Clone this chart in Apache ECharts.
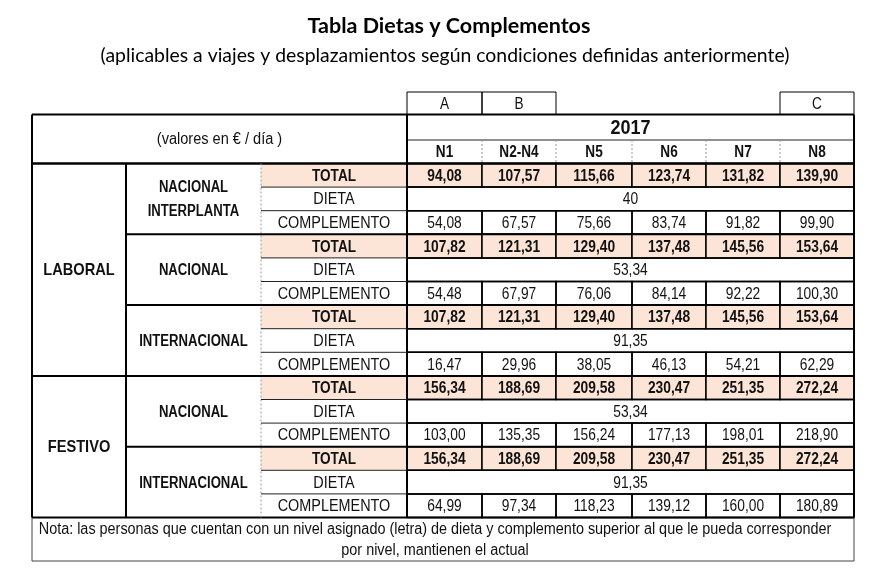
<!DOCTYPE html>
<html>
<head>
<meta charset="utf-8">
<script src="https://cdn.jsdelivr.net/npm/echarts@6/dist/echarts.min.js"></script>
<style>
  html, body { margin: 0; padding: 0; background: #fff; }
  #main { width: 878px; height: 578px; }
</style>
</head>
<body>
<div id="main"></div>
<script>
// datos de la tabla
const letters = ['A', 'B', '', '', '', 'C']
const year = '2017'
const levels = ['N1', 'N2-N4', 'N5', 'N6', 'N7', 'N8']
const sections = ['LABORAL', 'FESTIVO']
const groupSection = [0, 0, 0, 1, 1]
const groups = ['NACIONAL\nINTERPLANTA', 'NACIONAL', 'INTERNACIONAL', 'NACIONAL', 'INTERNACIONAL']
const rowTypes = ['TOTAL', 'DIETA', 'COMPLEMENTO']
const totals = [
  [94.08, 107.57, 115.66, 123.74, 131.82, 139.90],
  [107.82, 121.31, 129.40, 137.48, 145.56, 153.64],
  [107.82, 121.31, 129.40, 137.48, 145.56, 153.64],
  [156.34, 188.69, 209.58, 230.47, 251.35, 272.24],
  [156.34, 188.69, 209.58, 230.47, 251.35, 272.24]
]
const dietas = [40, 53.34, 91.35, 53.34, 91.35]
const complementos = [
  [54.08, 67.57, 75.66, 83.74, 91.82, 99.90],
  [54.48, 67.97, 76.06, 84.14, 92.22, 100.30],
  [16.47, 29.96, 38.05, 46.13, 54.21, 62.29],
  [103.00, 135.35, 156.24, 177.13, 198.01, 218.90],
  [64.99, 97.34, 118.23, 139.12, 160.00, 180.89]
]
const unitsLabel = '(valores en € / día )'
const noteText = 'Nota: las personas que cuentan con un nivel asignado (letra) de dieta y complemento superior al que le pueda corresponder\npor nivel, mantienen el actual'
const titleText = 'Tabla Dietas y Complementos'
const subtitleText = '(aplicables a viajes y desplazamientos según condiciones definidas anteriormente)'

// layout (anchos de columna / altos de fila)
const colW = [94, 135, 146, 75, 74, 76, 74, 74, 74]
const rowH = [22.5, 25.5, 23.5].concat(new Array(15).fill(23.6), [43.5])
const colX = [0]
colW.forEach(w => colX.push(colX[colX.length - 1] + w))
const rowY = [0]
rowH.forEach(h => rowY.push(rowY[rowY.length - 1] + h))

// Arial Narrow no esta: Liberation Sans estrechada con scaleX
const FONT = '"Liberation Sans", Arial, sans-serif'
const PEACH = '#fce4d6'

const fmt = v => v.toFixed(2).replace('.', ',')
const fmtDieta = v => String(v).replace('.', ',')

const styles = {
  letter: { stroke: '#000', lw: 1, size: 16, weight: 'normal', sx: 0.85 },
  units: { size: 16, weight: 'normal', sx: 0.91 },
  year: { size: 20, weight: 'bold', sx: 0.9 },
  level: { size: 16, weight: 'bold', sx: 0.85 },
  section: { size: 17, weight: 'bold', sx: 0.86 },
  group: { size: 16, weight: 'bold', sx: 0.82, lineHeight: 24 },
  typeTotal: { fill: PEACH, size: 16, weight: 'bold', sx: 0.85 },
  type: { size: 16, weight: 'normal', sx: 0.9 },
  valTotal: { fill: PEACH, stroke: '#000', lw: 1.5, size: 16, weight: 'bold', sx: 0.86 },
  val: { stroke: '#000', lw: 1.5, size: 16, weight: 'normal', sx: 0.86 },
  note: { size: 16, weight: 'normal', sx: 0.9, lineHeight: 21, dx: -8 }
}

// construir celdas a partir de los datos
const cells = []
function cell(c0, c1, r0, r1, text, kind) {
  cells.push({ value: [c0, c1, r0, r1], text: text, kind: kind })
}
letters.forEach((l, i) => { if (l) cell(3 + i, 4 + i, 0, 1, l, 'letter') })
cell(0, 3, 1, 3, unitsLabel, 'units')
cell(3, 9, 1, 2, year, 'year')
levels.forEach((l, i) => cell(3 + i, 4 + i, 2, 3, l, 'level'))
sections.forEach((s, si) => {
  const gs = groupSection.map((v, i) => v === si ? i : -1).filter(i => i >= 0)
  cell(0, 1, 3 + gs[0] * 3, 3 + (gs[gs.length - 1] + 1) * 3, s, 'section')
})
groups.forEach((g, gi) => {
  const r = 3 + gi * 3
  cell(1, 2, r, r + 3, g, 'group')
  cell(2, 3, r, r + 1, rowTypes[0], 'typeTotal')
  cell(2, 3, r + 1, r + 2, rowTypes[1], 'type')
  cell(2, 3, r + 2, r + 3, rowTypes[2], 'type')
  totals[gi].forEach((v, i) => cell(3 + i, 4 + i, r, r + 1, fmt(v), 'valTotal'))
  cell(3, 9, r + 1, r + 2, fmtDieta(dietas[gi]), 'val')
  complementos[gi].forEach((v, i) => cell(3 + i, 4 + i, r + 2, r + 3, fmt(v), 'val'))
})
cell(0, 9, 18, 19, noteText, 'note')

// lineas de la tabla: [c0, r0, c1, r1, ancho, color, discontinua]
const rules = [
  [0, 1, 9, 1, 2, '#000'], [0, 18, 9, 18, 2, '#000'],
  [0, 1, 0, 18, 2, '#000'], [9, 1, 9, 18, 2, '#000'],
  [0, 3, 9, 3, 2.5, '#000'], [3, 2, 9, 2, 1, '#222'],
  [3, 1, 3, 18, 2, '#000'], [1, 3, 1, 18, 2, '#000'],
  [2, 3, 2, 18, 1, '#999', true],
  [1, 6, 9, 6, 2, '#000'], [1, 9, 9, 9, 2, '#000'], [0, 12, 9, 12, 2, '#000'], [1, 15, 9, 15, 2, '#000'],
  [0, 18, 0, 19, 1, '#444'], [9, 18, 9, 19, 1, '#444'], [0, 19, 9, 19, 1, '#444']
]
for (let c = 4; c < 9; c++) rules.push([c, 2, c, 3, 1, '#999', true])
for (let g = 0; g < 5; g++) {
  rules.push([2, 4 + g * 3, 3, 4 + g * 3, 1, '#222'])
  rules.push([2, 5 + g * 3, 3, 5 + g * 3, 1, '#222'])
}

const myChart = echarts.init(document.getElementById('main'))

const option = {
  backgroundColor: '#fff',
  animation: false,
  title: [
    {
      text: titleText,
      left: 444,
      top: 10,
      textAlign: 'center',
      textStyle: { fontFamily: 'Lato, "Open Sans", sans-serif', fontSize: 21.5, fontWeight: 'bold', color: '#000' }
    },
    {
      text: subtitleText,
      left: 440,
      top: 41,
      textAlign: 'center',
      textStyle: { fontFamily: 'Lato, "Open Sans", sans-serif', fontSize: 19.4, fontWeight: 'normal', color: '#000' }
    }
  ],
  grid: { left: 32, top: 92, width: colX[colX.length - 1], height: rowY[rowY.length - 1] },
  xAxis: { type: 'value', min: 0, max: colX[colX.length - 1], show: false },
  yAxis: { type: 'value', inverse: true, min: 0, max: rowY[rowY.length - 1], show: false },
  series: [
    {
      type: 'custom',
      coordinateSystem: 'cartesian2d',
      silent: true,
      data: cells,
      renderItem: function (params, api) {
        const c = cells[params.dataIndex]
        const st = styles[c.kind]
        const p0 = api.coord([colX[c.value[0]], rowY[c.value[2]]])
        const p1 = api.coord([colX[c.value[1]], rowY[c.value[3]]])
        return {
          type: 'group',
          children: [
            {
              type: 'rect',
              shape: { x: p0[0], y: p0[1], width: p1[0] - p0[0], height: p1[1] - p0[1] },
              style: {
                fill: st.fill || 'transparent',
                stroke: st.stroke || null,
                lineWidth: st.lw || 0
              }
            },
            {
              type: 'text',
              x: (p0[0] + p1[0]) / 2 + (st.dx || 0),
              y: (p0[1] + p1[1]) / 2 + 1,
              scaleX: st.sx || 1,
              style: {
                text: c.text,
                x: 0,
                y: 0,
                align: 'center',
                verticalAlign: 'middle',
                fontFamily: FONT,
                fontSize: st.size,
                fontWeight: st.weight,
                lineHeight: st.lineHeight || st.size + 2,
                fill: '#111'
              }
            }
          ]
        }
      },
      z: 2
    },
    {
      type: 'custom',
      coordinateSystem: 'cartesian2d',
      silent: true,
      data: rules.map(r => r.slice(0, 4)),
      renderItem: function (params, api) {
        const r = rules[params.dataIndex]
        const a = api.coord([colX[r[0]], rowY[r[1]]])
        const b = api.coord([colX[r[2]], rowY[r[3]]])
        return {
          type: 'line',
          shape: { x1: a[0], y1: a[1], x2: b[0], y2: b[1] },
          style: { stroke: r[5], lineWidth: r[4], lineDash: r[6] ? [2, 2] : null }
        }
      },
      z: 3
    }
  ]
}

myChart.setOption(option)
window.addEventListener('resize', () => myChart.resize())
</script>
</body>
</html>
